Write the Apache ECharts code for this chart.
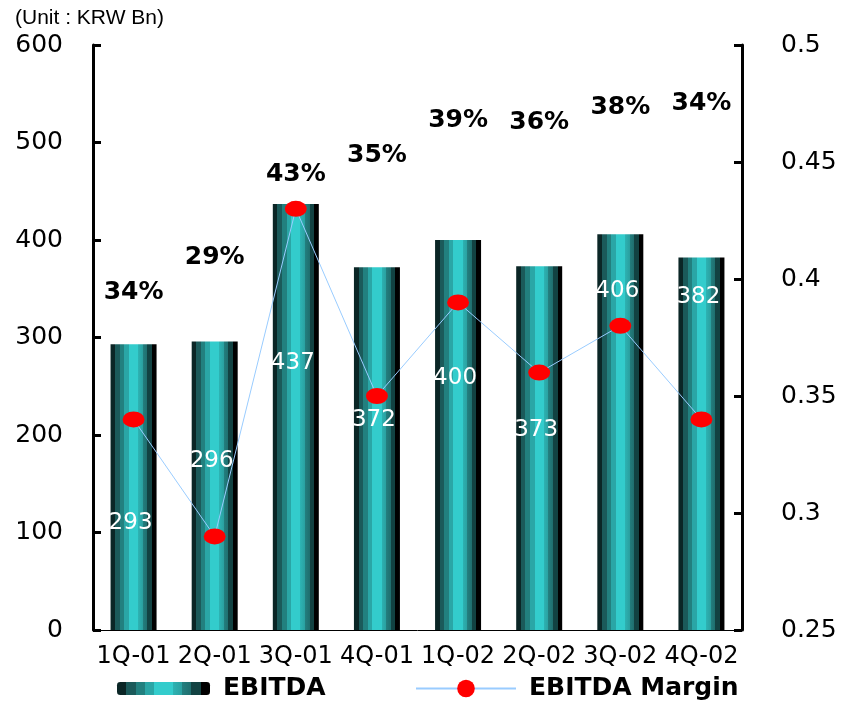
<!DOCTYPE html>
<html>
<head>
<meta charset="utf-8">
<script src="https://cdn.jsdelivr.net/npm/echarts@6/dist/echarts.min.js"></script>
<style>
  html, body { margin: 0; padding: 0; background: #fff; }
  #main { width: 853px; height: 702px; }
</style>
</head>
<body>
<div id="main"></div>
<script>
const quarters = ['1Q-01', '2Q-01', '3Q-01', '4Q-01', '1Q-02', '2Q-02', '3Q-02', '4Q-02'];
const ebitda = [293, 296, 437, 372, 400, 373, 406, 382];
const margin = [0.34, 0.29, 0.43, 0.35, 0.39, 0.36, 0.38, 0.34];
// where the labels sit, in left-axis units
const valueLabelAt = [110, 173, 274, 215, 258, 205, 348, 341];
const marginLabelAt = [346, 382, 467, 487, 523, 521, 536, 540];

const chart = echarts.init(document.getElementById('main'));

const barFill = new echarts.graphic.LinearGradient(0, 0, 1, 0, [
  { offset: 0, color: '#0b2626' },
  { offset: 0.1, color: '#0b2626' },
  { offset: 0.1, color: '#1b5a5a' },
  { offset: 0.2, color: '#1b5a5a' },
  { offset: 0.2, color: '#22807f' },
  { offset: 0.3, color: '#22807f' },
  { offset: 0.3, color: '#2aa6a6' },
  { offset: 0.4, color: '#2aa6a6' },
  { offset: 0.4, color: '#33cccc' },
  { offset: 0.6, color: '#33cccc' },
  { offset: 0.6, color: '#2db3b3' },
  { offset: 0.7, color: '#2aa0a0' },
  { offset: 0.7, color: '#237f7f' },
  { offset: 0.8, color: '#1f6e6e' },
  { offset: 0.8, color: '#124242' },
  { offset: 0.9, color: '#124242' },
  { offset: 0.9, color: '#000000' },
  { offset: 1, color: '#000000' }
]);

const axisFont = 'DejaVu Sans';
const legendText = { fontFamily: axisFont, fontSize: 25, fontWeight: 'bold', color: '#000', padding: [0, 0, 0, 8] };

chart.setOption({
  animation: false,
  title: {
    text: '(Unit : KRW Bn)',
    left: 10,
    top: 3,
    textStyle: { fontFamily: 'Liberation Sans', fontSize: 21, fontWeight: 'normal', color: '#000' }
  },
  legend: [
    {
      data: ['EBITDA'],
      left: 112,
      top: 671,
      itemWidth: 93,
      itemHeight: 13,
      textStyle: legendText
    },
    {
      data: ['EBITDA Margin'],
      left: 410,
      top: 671,
      itemWidth: 100,
      itemHeight: 22,
      textStyle: legendText
    }
  ],
  grid: { left: 93, right: 111, top: 45, bottom: 72 },
  xAxis: {
    type: 'category',
    data: quarters,
    axisLine: { lineStyle: { color: '#000', width: 1 } },
    axisTick: { show: false },
    axisLabel: { fontFamily: axisFont, fontSize: 24, color: '#000', margin: 15, interval: 0 }
  },
  yAxis: [
    {
      type: 'value',
      min: 0,
      max: 600,
      interval: 100,
      splitLine: { show: false },
      axisLine: { show: true, lineStyle: { color: '#000', width: 3 } },
      axisTick: { show: true, inside: true, length: 8, lineStyle: { width: 3, color: '#000' } },
      axisLabel: { fontFamily: axisFont, fontSize: 25, color: '#000', margin: 30 }
    },
    {
      type: 'value',
      min: 0.25,
      max: 0.5,
      interval: 0.05,
      splitLine: { show: false },
      axisLine: { show: true, lineStyle: { color: '#000', width: 3 } },
      axisTick: { show: true, inside: true, length: 8, lineStyle: { width: 3, color: '#000' } },
      axisLabel: {
        fontFamily: axisFont, fontSize: 25, color: '#000', margin: 39,
        formatter: v => String(parseFloat(v.toFixed(2)))
      }
    }
  ],
  series: [
    {
      name: 'EBITDA',
      type: 'bar',
      data: ebitda,
      barWidth: 46,
      itemStyle: { color: barFill }
    },
    {
      name: 'EBITDA Margin',
      type: 'line',
      yAxisIndex: 1,
      data: margin,
      symbol: 'circle',
      symbolSize: [22, 16],
      lineStyle: { color: '#99ccff', width: 1 },
      itemStyle: { color: '#ff0000' },
      z: 3
    },
    {
      name: 'values',
      type: 'scatter',
      data: valueLabelAt.map((v, i) => [i, v]),
      symbolSize: 0,
      silent: true,
      itemStyle: { opacity: 1 },
      z: 4,
      label: {
        show: true,
        position: 'inside',
        offset: [-3, 0],
        formatter: p => String(ebitda[p.dataIndex]),
        fontFamily: axisFont,
        fontSize: 23,
        color: '#fff'
      }
    },
    {
      name: 'margins',
      type: 'scatter',
      data: marginLabelAt.map((v, i) => [i, v]),
      symbolSize: 0,
      silent: true,
      itemStyle: { opacity: 1 },
      z: 4,
      label: {
        show: true,
        position: 'inside',
        formatter: p => Math.round(margin[p.dataIndex] * 100) + '%',
        fontFamily: axisFont,
        fontSize: 25,
        fontWeight: 'bold',
        color: '#000'
      }
    }
  ]
});
</script>
</body>
</html>
